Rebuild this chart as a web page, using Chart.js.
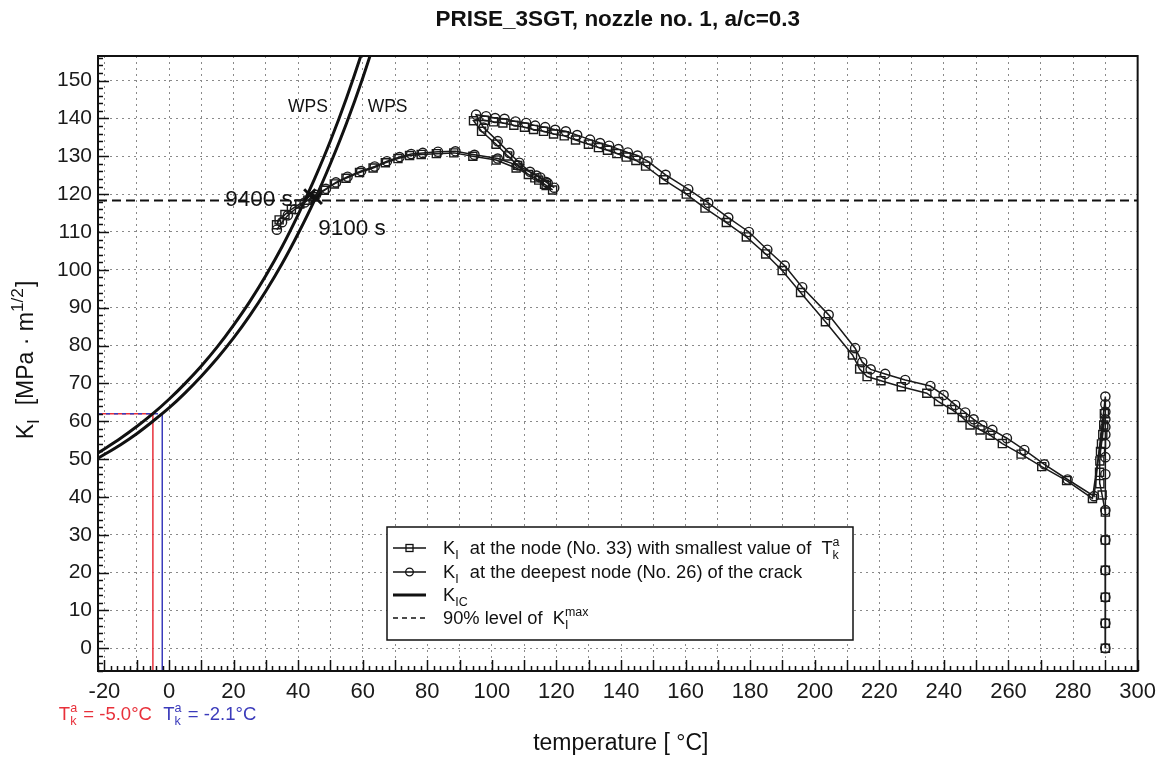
<!DOCTYPE html>
<html>
<head>
<meta charset="utf-8">
<script src="https://cdn.jsdelivr.net/npm/chart.js@4.4.1/dist/chart.umd.min.js"></script>
<style>
  html, body { margin: 0; padding: 0; background: #fff; }
  #wrap { position: relative; width: 1164px; height: 757px; }
</style>
</head>
<body>
<div id="wrap"><canvas id="c" width="1164" height="757"></canvas></div>
<script>
// K_I at node No. 33 (squares): temperature [°C] and K_I [MPa·m^1/2], in time order
const node33T = [290, 290, 290, 290, 290, 290, 289.0, 288.3, 288.2, 288.3, 288.5, 288.8, 289.2, 289.5, 289.7,
  286.0, 278.0, 270.3, 263.9, 258.1, 254.3, 251.2, 248.1, 245.7, 242.4, 238.3, 234.7, 226.8, 220.5, 216.2, 213.9, 211.7,
  203.3, 195.6, 189.9, 184.8, 178.8, 172.6, 166.0, 160.2, 153.2, 147.6, 144.6, 141.6, 138.7, 135.8, 133.0, 129.9,
  125.9, 122.4, 119.1, 116.0, 112.9, 110.1, 106.8, 103.4, 100.5, 97.7, 94.3,
  96.8, 101.3, 104.9, 108.0, 111.3, 114.5, 116.8, 118.8,
  116.3, 113.3, 107.5, 101.3, 94.1, 88.2, 82.8, 78.1, 74.5, 70.9, 67.0, 63.2, 59.0, 54.8, 51.2, 48.1, 45.0, 43.0,
  40.5, 37.9, 35.9, 34.1, 33.3];
const node33K = [0, 6.6, 13.5, 20.6, 28.6, 36.0, 40.5, 43.5, 46.5, 49.5, 52.0, 54.0, 56.5, 59.0, 62.0,
  39.6, 44.3, 48.0, 51.3, 54.1, 56.3, 57.7, 59.0, 61.0, 63.1, 65.2, 67.4, 69.1, 70.7, 71.8, 73.8, 77.5,
  86.3, 94.0, 99.8, 104.2, 108.7, 112.5, 116.3, 120.0, 123.8, 127.4, 128.9, 129.8, 130.7, 131.6, 132.3, 133.2,
  134.3, 135.4, 135.9, 136.6, 137.1, 137.7, 138.2, 138.8, 139.1, 139.5, 139.4,
  136.6, 133.2, 130.1, 127.6, 125.2, 123.7, 122.3, 121.1,
  122.6, 124.3, 126.9, 129.0, 130.0, 130.9, 130.7, 130.5, 130.2, 129.4, 128.3, 126.9, 125.7, 124.2, 122.7, 121.0, 119.3, 118.4,
  117.4, 116.0, 114.6, 113.2, 111.9];

// K_I at deepest node No. 26 (circles)
const node26T = [290, 290, 290, 290, 290, 290, 290, 290, 290, 290, 290, 290, 290, 290, 290,
  286.5, 278.3, 271.1, 264.9, 259.5, 255.0, 251.9, 249.2, 246.6, 243.5, 239.9, 235.8, 228.0, 221.8, 217.3, 214.7, 212.5,
  204.3, 196.1, 190.7, 185.3, 179.6, 173.2, 167.0, 160.8, 153.8, 148.2, 145.1, 142.1, 139.2, 136.3, 133.5, 130.4,
  126.4, 122.9, 119.6, 116.5, 113.4, 110.6, 107.3, 103.9, 101.0, 98.2, 95.1,
  97.4, 101.8, 105.4, 108.5, 111.8, 115.0, 117.3, 119.3,
  116.8, 113.8, 108.0, 101.8, 94.6, 88.7, 83.3, 78.6, 75.0, 71.4, 67.5, 63.7, 59.5, 55.3, 51.7, 48.6, 45.5,
  42.0, 39.0, 36.8, 35.0, 33.4];
const node26K = [0, 6.6, 13.5, 20.6, 28.6, 36.5, 46.0, 50.5, 54.0, 56.5, 58.5, 60.5, 62.5, 64.5, 66.5,
  40.2, 44.6, 48.6, 52.4, 55.5, 57.7, 58.9, 60.5, 62.3, 64.3, 66.9, 69.3, 70.9, 72.5, 73.7, 75.6, 79.3,
  88.1, 95.4, 101.1, 105.3, 110.0, 113.8, 117.7, 121.3, 125.1, 128.7, 130.2, 131.0, 131.9, 132.8, 133.5, 134.4,
  135.6, 136.6, 137.0, 137.7, 138.1, 138.8, 139.2, 139.9, 140.1, 140.6, 141.0,
  137.6, 134.0, 130.9, 128.3, 125.9, 124.4, 122.9, 121.7,
  123.2, 124.9, 127.6, 129.4, 130.4, 131.3, 131.2, 130.9, 130.6, 129.8, 128.7, 127.3, 126.1, 124.6, 123.1, 121.4, 119.8,
  117.8, 116.0, 114.4, 112.6, 110.6];

// K_IC curves (two reference temperatures)
const kicT = [-22, -15, -10, -5, 0, 5, 10, 15, 20, 25, 30, 35, 40, 45, 50, 55, 60, 65];
const kicRedK = [51.6, 55.5, 58.6, 62.0, 65.8, 70.0, 74.6, 79.7, 85.4, 91.6, 98.5, 106.1, 114.6, 123.9, 134.1, 145.5, 158.1, 172.0];
const kicBlueK = [50.2, 53.8, 56.7, 60.0, 63.5, 67.5, 71.9, 76.7, 82.0, 87.9, 94.4, 101.6, 109.6, 118.3, 128.1, 138.8, 150.7, 163.8];

const tkRed = -5.0;
const tkBlue = -2.1;
const kAtTk = 62;
const level90 = 118.3;
const crossT = [43.6, 45.6];
const crossK = [119.8, 118.9];

const xMin = -22, xMax = 300, yMin = -6, yMax = 156.5;

const FONT = "'Liberation Sans', Arial, Helvetica, sans-serif";
Chart.defaults.font.family = FONT;

const pts = (xs, ys) => xs.map((x, i) => ({ x, y: ys[i] }));

function pieceWidth(ctx, p, size, k) {
  if (p.t !== undefined) {
    ctx.font = `${p.bold ? 'bold ' : ''}${size}px ${FONT}`;
    return ctx.measureText(p.t).width;
  }
  ctx.font = `${size * k}px ${FONT}`;
  return Math.max(p.sub ? ctx.measureText(p.sub).width : 0, p.sup ? ctx.measureText(p.sup).width : 0) + 1;
}

function drawRich(ctx, parts, x, y, size, align, color, k = 0.68) {
  ctx.save();
  ctx.fillStyle = color || '#111';
  ctx.textAlign = 'left';
  ctx.textBaseline = 'alphabetic';
  const widths = parts.map((p) => pieceWidth(ctx, p, size, k));
  const total = widths.reduce((a, b) => a + b, 0);
  let cx = align === 'center' ? x - total / 2 : align === 'right' ? x - total : x;
  parts.forEach((p, i) => {
    if (p.t !== undefined) {
      ctx.font = `${p.bold ? 'bold ' : ''}${size}px ${FONT}`;
      ctx.fillText(p.t, cx, y);
    } else {
      ctx.font = `${size * k}px ${FONT}`;
      if (p.sub) ctx.fillText(p.sub, cx, y + size * 0.28);
      if (p.sup) ctx.fillText(p.sup, cx, y - size * 0.45);
    }
    cx += widths[i];
  });
  ctx.restore();
}

const decor = {
  id: 'decor',
  afterDraw(chart) {
    const { ctx, chartArea: a, scales: { x, y } } = chart;
    ctx.save();
    // inward ticks
    ctx.strokeStyle = '#111';
    ctx.lineWidth = 1.5;
    ctx.beginPath();
    for (let v = -22; v <= 300; v += 2) {
      const px = Math.round(x.getPixelForValue(v)) + 0.5;
      const len = v % 10 === 0 ? 11 : 5;
      ctx.moveTo(px, a.bottom);
      ctx.lineTo(px, a.bottom - len);
    }
    for (let v = -6; v <= 156; v += 2) {
      const py = Math.round(y.getPixelForValue(v)) + 0.5;
      const len = v % 10 === 0 ? 11 : 5;
      ctx.moveTo(a.left, py);
      ctx.lineTo(a.left + len, py);
    }
    ctx.stroke();
    // frame
    ctx.lineWidth = 2;
    ctx.strokeRect(a.left, a.top, a.right - a.left, a.bottom - a.top);
    ctx.restore();

    // titles
    drawRich(ctx, [{ t: 'PRISE_3SGT, nozzle no. 1, a/c=0.3', bold: true }], (a.left + a.right) / 2, 26, 22.5, 'center', '#111');
    drawRich(ctx, [{ t: 'temperature [ °C]' }], (a.left + a.right) / 2 + 3, 750, 23, 'center', '#111');
    ctx.save();
    ctx.translate(24, 360);
    ctx.rotate(-Math.PI / 2);
    drawRich(ctx, [{ t: 'K' }, { sub: 'I' }, { t: '  [MPa · m' }, { sup: '1/2' }, { t: ']' }], 0, 9, 23, 'center', '#111', 0.75);
    ctx.restore();

    // annotations inside the plot
    drawRich(ctx, [{ t: 'WPS' }], x.getPixelForValue(43), y.getPixelForValue(141.6), 17.5, 'center', '#111');
    drawRich(ctx, [{ t: 'WPS' }], x.getPixelForValue(67.7), y.getPixelForValue(141.6), 17.5, 'center', '#111');
    drawRich(ctx, [{ t: '9400 s' }], x.getPixelForValue(38.3), y.getPixelForValue(116.8), 22.5, 'right', '#111');
    drawRich(ctx, [{ t: '9100 s' }], x.getPixelForValue(46.2), y.getPixelForValue(109.3), 22.5, 'left', '#111');

    // reference temperatures below the axis
    drawRich(ctx, [{ t: 'T' }, { sub: 'k', sup: 'a' }, { t: ' = -5.0°C' }], x.getPixelForValue(tkRed) - 1, 720, 18.5, 'right', '#e8303a');
    drawRich(ctx, [{ t: 'T' }, { sub: 'k', sup: 'a' }, { t: ' = -2.1°C' }], x.getPixelForValue(tkBlue) + 1, 720, 18.5, 'left', '#3b3bbb');

    // legend box
    const L = { left: 387, top: 527, right: 853, bottom: 640 };
    ctx.save();
    ctx.fillStyle = '#fff';
    ctx.fillRect(L.left, L.top, L.right - L.left, L.bottom - L.top);
    ctx.strokeStyle = '#111';
    ctx.lineWidth = 1.5;
    ctx.strokeRect(L.left, L.top, L.right - L.left, L.bottom - L.top);
    const rows = [548, 572, 595, 618];
    const sx0 = L.left + 6, sx1 = L.left + 39, sxm = (sx0 + sx1) / 2;
    ctx.lineWidth = 1.3;
    ctx.beginPath(); ctx.moveTo(sx0, rows[0]); ctx.lineTo(sx1, rows[0]); ctx.stroke();
    ctx.strokeRect(sxm - 3.5, rows[0] - 3.5, 7, 7);
    ctx.beginPath(); ctx.moveTo(sx0, rows[1]); ctx.lineTo(sx1, rows[1]); ctx.stroke();
    ctx.beginPath(); ctx.arc(sxm, rows[1], 3.8, 0, Math.PI * 2); ctx.stroke();
    ctx.lineWidth = 3;
    ctx.beginPath(); ctx.moveTo(sx0, rows[2]); ctx.lineTo(sx1, rows[2]); ctx.stroke();
    ctx.lineWidth = 1.5;
    ctx.setLineDash([5, 4]);
    ctx.beginPath(); ctx.moveTo(sx0, rows[3]); ctx.lineTo(sx1, rows[3]); ctx.stroke();
    ctx.restore();
    const tx = L.left + 56, fs = 18.3;
    drawRich(ctx, [{ t: 'K' }, { sub: 'I' }, { t: '  at the node (No. 33) with smallest value of  T' }, { sub: 'k', sup: 'a' }], tx, rows[0] + 6, fs, 'left', '#111');
    drawRich(ctx, [{ t: 'K' }, { sub: 'I' }, { t: '  at the deepest node (No. 26) of the crack' }], tx, rows[1] + 6, fs, 'left', '#111');
    drawRich(ctx, [{ t: 'K' }, { sub: 'IC' }], tx, rows[2] + 6, fs, 'left', '#111');
    drawRich(ctx, [{ t: '90% level of  K' }, { sub: 'I', sup: 'max' }], tx, rows[3] + 6, fs, 'left', '#111');
  }
};

const lineBase = { showLine: true, fill: false, tension: 0 };

new Chart(document.getElementById('c'), {
  type: 'scatter',
  data: {
    datasets: [
      { ...lineBase, label: 'cross', data: pts(crossT, crossK), showLine: false, pointStyle: 'crossRot', pointRadius: 8, pointBorderWidth: 3, pointBorderColor: '#111' },
      { ...lineBase, label: 'node 33', data: pts(node33T, node33K), borderColor: '#1a1a1a', borderWidth: 1.5,
        pointStyle: 'rect', pointRadius: 5.7, pointBorderWidth: 1.4, pointBorderColor: '#1a1a1a', pointBackgroundColor: 'rgba(255,255,255,0)' },
      { ...lineBase, label: 'node 26', data: pts(node26T, node26K), borderColor: '#1a1a1a', borderWidth: 1.5,
        pointStyle: 'circle', pointRadius: 4.6, pointBorderWidth: 1.4, pointBorderColor: '#1a1a1a', pointBackgroundColor: 'rgba(255,255,255,0)' },
      { ...lineBase, label: 'KIC a', data: pts(kicT, kicRedK), borderColor: '#111', borderWidth: 3, pointRadius: 0, cubicInterpolationMode: 'monotone' },
      { ...lineBase, label: 'KIC b', data: pts(kicT, kicBlueK), borderColor: '#111', borderWidth: 3, pointRadius: 0, cubicInterpolationMode: 'monotone' },
      { ...lineBase, label: '90%', data: [{ x: xMin, y: level90 }, { x: xMax, y: level90 }], borderColor: '#111', borderWidth: 2, borderDash: [9, 5], pointRadius: 0 },
      { ...lineBase, label: 'Tk blue', data: [{ x: xMin, y: kAtTk }, { x: tkBlue, y: kAtTk }, { x: tkBlue, y: yMin }], borderColor: '#3b3bbb', borderWidth: 1.5, pointRadius: 0,
        segment: { borderDash: (c) => (c.p0DataIndex === 0 ? [4, 4] : undefined) } },
      { ...lineBase, label: 'Tk red', data: [{ x: xMin, y: kAtTk }, { x: tkRed, y: kAtTk }, { x: tkRed, y: yMin }], borderColor: '#e8303a', borderWidth: 1.5, pointRadius: 0 },
    ],
  },
  options: {
    responsive: false,
    animation: false,
    layout: { padding: { top: 56, right: 25, left: 0, bottom: 0 } },
    plugins: { legend: { display: false }, tooltip: { enabled: false } },
    scales: {
      x: {
        type: 'linear', min: xMin, max: xMax,
        afterFit: (s) => { s.height = 86; },
        ticks: { stepSize: 10, includeBounds: false, autoSkip: false, maxRotation: 0, padding: 8, color: '#1a1a1a', font: { size: 22 },
          callback: (v) => (v % 20 === 0 ? String(v) : '') },
        grid: { color: '#8a8a8a', lineWidth: 1, drawTicks: false },
        border: { display: false, dash: [2, 4] },
      },
      y: {
        type: 'linear', min: yMin, max: yMax,
        afterFit: (s) => { s.width = 98; },
        ticks: { stepSize: 10, includeBounds: false, autoSkip: false, padding: 6, color: '#1a1a1a', font: { size: 21 } },
        grid: { color: '#8a8a8a', lineWidth: 1, drawTicks: false },
        border: { display: false, dash: [2, 4] },
      },
    },
  },
  plugins: [decor],
});
</script>
</body>
</html>
